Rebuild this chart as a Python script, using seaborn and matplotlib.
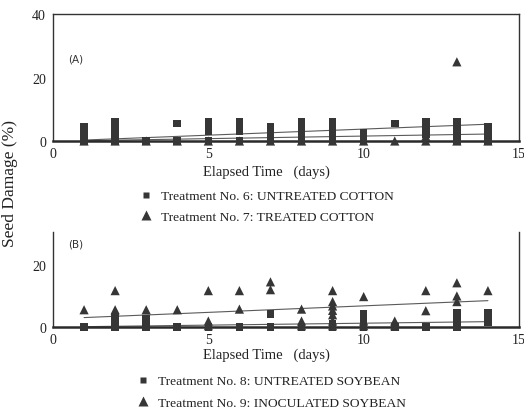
import matplotlib
matplotlib.use("Agg")
import matplotlib.pyplot as plt
import pandas as pd
import seaborn as sns
from matplotlib.lines import Line2D

sns.set_theme(style="white")
plt.rcParams["font.family"] = ["Liberation Serif", "DejaVu Serif"]

# ---- Panel A: cotton -------------------------------------------------------
# Treatment No. 6 (untreated cotton), individual seed-damage readings
a6_day = [1, 1, 1, 1,
          2, 2, 2, 2, 2,
          3,
          4, 4,
          5, 5, 5, 5,
          6, 6, 6, 6,
          7, 7, 7, 7,
          8, 8, 8, 8, 8,
          9, 9, 9, 9, 9,
          10, 10, 10,
          11,
          12, 12, 12, 12,
          13, 13, 13, 13, 13,
          14, 14, 14, 14]
a6_dmg = [0, 1.5, 3, 4.5,
          0, 1.5, 3, 4.5, 6,
          0,
          0, 5.5,
          0, 3, 4.5, 6,
          0, 3, 4.5, 6,
          0, 1.5, 3, 4.5,
          0, 1.5, 3, 4.5, 6,
          0, 1.5, 3, 4.5, 6,
          0, 1.5, 2.5,
          5.5,
          2, 3.5, 5, 6,
          0, 1.5, 3, 4.5, 6,
          0, 1.5, 3, 4.5]

# Treatment No. 7 (treated cotton)
a7_day = [1, 2, 3, 4, 5, 6, 7, 8, 9, 10, 11, 12, 12, 13, 13, 14]
a7_dmg = [0, 0, 0, 0, 0, 0, 0, 0, 0, 0, 0, 0, 1.5, 0, 25, 0]

# fitted trend lines (start / end of each line)
trend_days = [1, 14]
a6_trend = [0.3, 5.3]
a7_trend = [0.1, 2.2]

# ---- Panel B: soybean ------------------------------------------------------
# Treatment No. 8 (untreated soybean)
b8_day = [1,
          2, 2, 2,
          3, 3, 3,
          4, 5, 6,
          7, 7,
          8,
          9, 9,
          10, 10, 10,
          11, 12,
          13, 13, 13, 13,
          14, 14, 14]
b8_dmg = [0,
          0, 1.5, 2.9,
          0, 1.3, 2.6,
          0, 0, 0,
          0, 4.2,
          0,
          0, 1.2,
          0, 2, 4.2,
          0, 0,
          0, 1.5, 3, 4.7,
          1.6, 3, 4.6]

# Treatment No. 9 (inoculated soybean)
b9_day = [1,
          2, 2,
          3, 4,
          5, 5, 5,
          6, 6,
          7, 7,
          8, 8, 8,
          9, 9, 9, 9, 9, 9, 9,
          10, 10, 10,
          11, 11,
          12, 12,
          13, 13, 13,
          14]
b9_dmg = [5.6,
          11.7, 5.6,
          5.6, 5.6,
          11.7, 2, 0.5,
          11.7, 5.8,
          14.5, 12,
          5.8, 2, 0.5,
          11.7, 8.2, 6.8, 5.4, 4, 2, 0.5,
          9.8, 2, 0.5,
          2, 0.5,
          11.7, 5.3,
          14.2, 10, 8.2,
          11.7]

b8_trend = [0.2, 1.8]
b9_trend = [3.1, 8.5]

x_ticks = [0, 5, 10, 15]
a_y_ticks = [0, 20, 40]
b_y_ticks = [0, 20]

labels_a = ["Treatment No. 6: UNTREATED COTTON",
            "Treatment No. 7: TREATED COTTON"]
labels_b = ["Treatment No. 8: UNTREATED SOYBEAN",
            "Treatment No. 9: INOCULATED SOYBEAN"]

INK = "#363636"
LINE = "#5a5a5a"

fig = plt.figure(figsize=(5.24, 4.10), dpi=100)
fig.patch.set_facecolor("white")

W, H = 524.0, 410.0
ax_a = fig.add_axes([53 / W, 1 - 142 / H, (519 - 53) / W, (142 - 15.3) / H])
ax_b = fig.add_axes([53 / W, 1 - 328.3 / H, (519 - 53) / W, (328.3 - 233) / H])


def draw_panel(ax, sq_day, sq_val, tr_day, tr_val, sq_trend, tr_trend):
    sns.lineplot(x=trend_days, y=sq_trend, ax=ax, color=LINE, lw=0.8, zorder=2)
    sns.lineplot(x=trend_days, y=tr_trend, ax=ax, color=LINE, lw=0.8, zorder=2)
    sns.scatterplot(x=sq_day, y=sq_val, ax=ax, marker="s", s=30, color=INK,
                    edgecolor="none", linewidth=0, zorder=3, clip_on=False)
    sns.scatterplot(x=tr_day, y=tr_val, ax=ax, marker="^", s=44, color=INK,
                    edgecolor="none", linewidth=0, zorder=3, clip_on=False)


draw_panel(ax_a, a6_day, a6_dmg, a7_day, a7_dmg, a6_trend, a7_trend)
draw_panel(ax_b, b8_day, b8_dmg, b9_day, b9_dmg, b8_trend, b9_trend)

ax_a.set_ylim(0, 40)
ax_b.set_ylim(0, 30.4)
ax_a.set_yticks(a_y_ticks)
ax_b.set_yticks(b_y_ticks)

for ax in (ax_a, ax_b):
    ax.set_xlim(0, 15)
    ax.set_xticks(x_ticks)
    ax.set_facecolor("white")
    ax.tick_params(axis="y", direction="in", length=5, width=0.8,
                   color="#333333", labelsize=10, pad=5, labelcolor="#222222")
    ax.tick_params(axis="x", length=0, labelsize=10, pad=4,
                   labelcolor="#222222")
    for side in ("left", "right", "top"):
        ax.spines[side].set_linewidth(1.0)
        ax.spines[side].set_color("#333333")
    ax.spines["bottom"].set_linewidth(1.8)
    ax.spines["bottom"].set_color("#2a2a2a")
    ax.set_xlabel("Elapsed Time   (days)", fontsize=10.5, color="#222222")
    ax.xaxis.label.set_verticalalignment("center")
    ax.set_ylabel("")

ax_b.spines["top"].set_visible(False)
ax_a.xaxis.set_label_coords((266 - 53) / 466, -30 / 126.7)
ax_b.xaxis.set_label_coords((266 - 53) / 466, -27 / 95.3)

ax_a.text(0.74, 26, "(A)", fontsize=7.5, family="DejaVu Sans",
          ha="center", va="center", color="#333333")
ax_b.text(0.74, 26.6, "(B)", fontsize=7.5, family="DejaVu Sans",
          ha="center", va="center", color="#333333")

fig.text(10 / W, 1 - 184 / H, "Seed Damage (%)", rotation=90, fontsize=12.5,
         ha="center", va="center", color="#222222")


def handles():
    return [Line2D([], [], ls="none", marker="s", ms=5, color=INK, mec="none"),
            Line2D([], [], ls="none", marker="^", ms=6.5, color=INK, mec="none")]


leg_kw = dict(frameon=False, fontsize=9.7, handlelength=1.0, handletextpad=0.6,
              borderpad=0, borderaxespad=0, labelcolor="#222222")
fig.legend(handles(), labels_a, loc="upper left",
           bbox_to_anchor=(139 / W, 1 - 191 / H), labelspacing=0.6, **leg_kw)
fig.legend(handles(), labels_b, loc="upper left",
           bbox_to_anchor=(136 / W, 1 - 376 / H), labelspacing=0.65, **leg_kw)

fig.savefig("out.png", dpi=100, facecolor="white")
